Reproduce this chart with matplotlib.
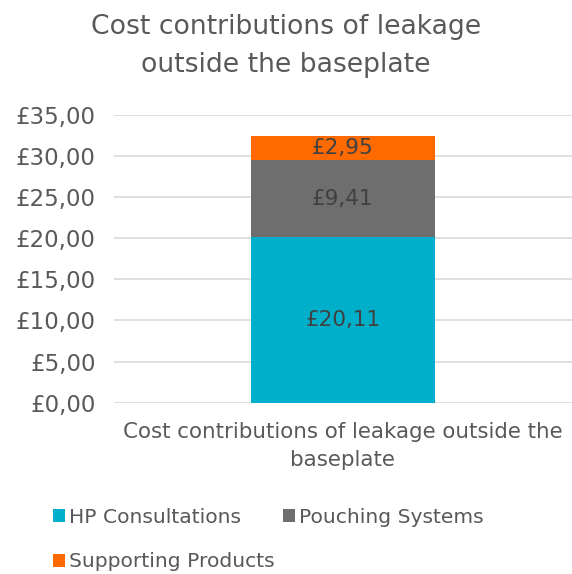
import matplotlib.pyplot as plt
from matplotlib.patches import Patch

plt.rcParams['font.family'] = ['DejaVu Sans']

# Data
category = 'Cost contributions of leakage outside the\nbaseplate'
series = ['HP Consultations', 'Pouching Systems', 'Supporting Products']
values = [20.11, 9.41, 2.95]
colors = ['#00B0CA', '#6E6E6E', '#FF6A00']
yticks = [0, 5, 10, 15, 20, 25, 30, 35]

text_col = '#595959'

fig = plt.figure(figsize=(5.72, 5.74), dpi=100)
ax = fig.add_axes([0.199, 0.2984, 0.801, 0.5018])

bottom = 0
for name, v, c in zip(series, values, colors):
    ax.bar(0, v, width=0.4, bottom=bottom, color=c, label=name, zorder=3)
    ax.text(0, bottom + v / 2, '£' + f'{v:.2f}'.replace('.', ','),
            ha='center', va='center', fontsize=15.5, color='#404040', zorder=4)
    bottom += v

ax.set_xlim(-0.5, 0.5)
ax.set_ylim(0, 35)
ax.set_yticks(yticks)
ax.set_yticklabels(['£' + f'{t:.2f}'.replace('.', ',') for t in yticks])
ax.set_xticks([0])
ax.set_xticklabels([category], linespacing=1.5)
ax.tick_params(axis='y', length=0, pad=13, labelsize=16.5, labelcolor=text_col)
ax.tick_params(axis='x', length=0, pad=14, labelsize=15.4, labelcolor=text_col)
ax.grid(axis='y', color='#D9D9D9', linewidth=1.2, zorder=0)
for s in ax.spines.values():
    s.set_visible(False)

fig.text(0.5, 0.92, 'Cost contributions of leakage\noutside the baseplate',
         ha='center', va='center', fontsize=19.2, color=text_col, linespacing=1.6)

# legend fills column-wise, so order handles to read row by row
order = [0, 2, 1]
handles = [Patch(facecolor=colors[i], label=series[i]) for i in order]
fig.legend(handles=handles, loc='upper left', bbox_to_anchor=(0.092, 0.115),
           ncol=2, frameon=False, fontsize=14.6, labelcolor=text_col,
           handlelength=0.6, handleheight=0.6, handletextpad=0.2,
           columnspacing=0.4, labelspacing=1.25, borderpad=0, borderaxespad=0)

fig.savefig('out.png', dpi=100)
